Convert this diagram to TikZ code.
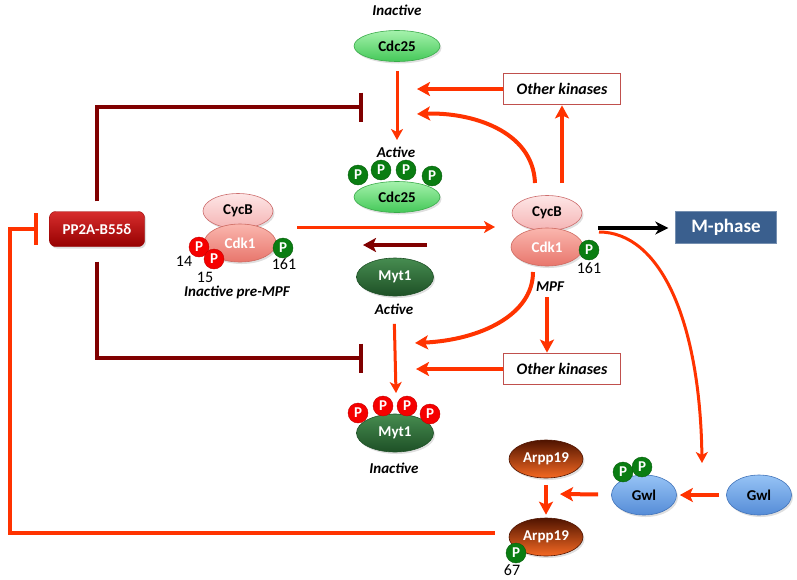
\documentclass[tikz,border=0pt]{standalone}
\usepackage{fontspec}
\setmainfont{Carlito}
\usetikzlibrary{arrows.meta,shapes.geometric,shadows}

\definecolor{actRed}{RGB}{255,51,0}
\definecolor{inhRed}{RGB}{128,0,0}
\definecolor{cdcTop}{RGB}{165,242,172}
\definecolor{cdcBot}{RGB}{68,200,88}
\definecolor{cdcEdge}{RGB}{58,170,74}
\definecolor{mytTop}{RGB}{70,140,80}
\definecolor{mytBot}{RGB}{30,80,38}
\definecolor{cdkTop}{RGB}{250,182,174}
\definecolor{cdkBot}{RGB}{232,118,108}
\definecolor{cdkEdge}{RGB}{205,105,96}
\definecolor{cycTop}{RGB}{253,230,230}
\definecolor{cycBot}{RGB}{245,180,180}
\definecolor{cycEdge}{RGB}{205,110,110}
\definecolor{ppTop}{RGB}{215,45,45}
\definecolor{ppBot}{RGB}{150,0,0}
\definecolor{arpTop}{RGB}{80,20,0}
\definecolor{arpBot}{RGB}{245,105,35}
\definecolor{gwlTop}{RGB}{150,195,245}
\definecolor{gwlBot}{RGB}{85,140,215}
\definecolor{gwlEdge}{RGB}{65,115,185}
\definecolor{phosG}{RGB}{10,125,18}
\definecolor{phosR}{RGB}{245,0,0}
\definecolor{okEdge}{RGB}{192,80,77}
\definecolor{mBlue}{RGB}{58,95,142}

\begin{document}
\begin{tikzpicture}[x=1pt,y=-1pt,
                every node/.style={font=\fontsize{15}{17}\selectfont\bfseries},
                lbl/.style={font=\fontsize{15}{17}\selectfont\bfseries\itshape},
                num/.style={font=\fontsize{16}{18}\selectfont\mdseries,inner sep=0pt},
                protein/.style={shape=ellipse,inner sep=0pt,line width=0.6pt,drop shadow={opacity=0.25,shadow xshift=1.5pt,shadow yshift=-2pt}},
                cdc/.style={protein,minimum width=86pt,minimum height=31pt,top color=cdcTop,bottom color=cdcBot,draw=cdcEdge},
                myt/.style={protein,minimum width=77pt,minimum height=38pt,top color=mytTop,bottom color=mytBot,draw=mytBot,text=white},
                cdk/.style={protein,minimum width=72pt,minimum height=38pt,top color=cdkTop,bottom color=cdkBot,draw=cdkEdge,text=white},
                cyc/.style={protein,minimum width=70pt,minimum height=35pt,top color=cycTop,bottom color=cycBot,draw=cycEdge},
                arp/.style={protein,minimum width=74pt,minimum height=38pt,top color=arpTop,bottom color=arpBot,draw=arpTop,text=white},
                gw/.style={protein,minimum width=65pt,minimum height=40pt,top color=gwlTop,bottom color=gwlBot,draw=gwlEdge},
                pG/.style={circle,minimum size=20pt,inner sep=0pt,fill=phosG,draw=phosG!75!black,text=white,font=\fontsize{15}{15}\selectfont\bfseries},
                pR/.style={pG,fill=phosR,draw=phosR!80!black},
                okbox/.style={draw=okEdge,line width=1.8pt,fill=white,minimum width=117pt,minimum height=31pt,inner sep=0pt,font=\fontsize{16}{18}\selectfont\bfseries\itshape},
                act/.style={draw=actRed,line width=4pt,-{Stealth[length=13pt,width=14pt,inset=3pt]}},
                actThin/.style={draw=actRed,line width=3pt,-{Stealth[length=11pt,width=12pt,inset=3pt]}},
                inh/.style={draw=inhRed,line width=4.5pt,-{Bar[width=29pt]}}]
                \useasboundingbox (0,0) rectangle (797,579);

                % Cdc25
                \node[lbl](cdcInLbl)at(397, 10){Inactive};
                \node[cdc](cdcIn)at(397, 46){Cdc25};
                \node[lbl](cdcActLbl)at(396, 152){Active};
                \node[cdc](cdcAct)at(397, 197){Cdc25};
                \node[pG](cdcP1)at(358, 175){P};
                \node[pG](cdcP2)at(381, 170){P};
                \node[pG](cdcP3)at(406, 170){P};
                \node[pG](cdcP4)at(432, 176){P};
                \node[okbox](okTop)at(562, 89){Other kinases};

                % pre-MPF
                \node[cyc](cycL)at(238, 211){CycB};
                \node[cdk](cdkL)at(240, 243){Cdk1};
                \node[pR](preP14)at(199, 247){P};
                \node[pR](preP15)at(214, 259){P};
                \node[pG](preP161)at(283, 248){P};
                \node[num](n14)at(184, 261){14};
                \node[num](n15)at(205, 277){15};
                \node[num](n161a)at(284, 264){161};
                \node[lbl](preLbl)at(237, 292){Inactive pre-MPF};

                % MPF
                \node[cyc](cycR)at(547, 213){CycB};
                \node[cdk](cdkR)at(547, 247){Cdk1};
                \node[pG](mpfP161)at(589, 250){P};
                \node[num](n161b)at(589, 268){161};
                \node[lbl](mpfLbl)at(550, 287){MPF};
                \node[draw=mBlue!70!white,fill=mBlue,text=white,minimum width=101pt,minimum height=32pt,inner sep=0pt,font=\fontsize{19}{21}\selectfont\bfseries](mph)at(726, 227){M-phase};

                % PP2A
                \node[rounded corners=6pt,top color=ppTop,bottom color=ppBot,draw=ppBot,text=white,minimum width=95pt,minimum height=35pt,inner sep=0pt,drop shadow={opacity=0.25,shadow xshift=1.5pt,shadow yshift=-2pt}](pp2a)at(97, 229){PP2A-B55δ};

                % Myt1
                \node[myt](mytAct)at(395, 277){Myt1};
                \node[lbl](mytActLbl)at(394, 309){Active};
                \node[okbox](okBot)at(562, 369){Other kinases};
                \node[myt](mytIn)at(395, 433){Myt1};
                \node[pR](mytP1)at(358, 413){P};
                \node[pR](mytP2)at(383, 406){P};
                \node[pR](mytP3)at(407, 406){P};
                \node[pR](mytP4)at(430, 414){P};
                \node[lbl](mytInLbl)at(394, 468){Inactive};

                % Gwl and Arpp19
                \node[arp](arpU)at(546, 459){Arpp19};
                \node[arp](arpP)at(546, 537){Arpp19};
                \node[pG](arpP67)at(516, 553){P};
                \node[num](n67)at(512, 570){67};
                \node[gw](gwlP)at(644, 495){Gwl};
                \node[pG](gwlP1)at(623, 472){P};
                \node[pG](gwlP2)at(642, 467){P};
                \node[gw](gwl)at(759, 495){Gwl};

                % free ends
                \coordinate(cdcActTop)at(397, 140);
                \coordinate(cdcT1)at(417, 89);
                \coordinate(cdcT2)at(417, 114);
                \coordinate(cdcBar)at(363, 107);
                \coordinate(mytInTop)at(396, 393);
                \coordinate(mytT1)at(415, 343);
                \coordinate(mytT2)at(416, 369);
                \coordinate(mytBar)at(363, 358);
                \coordinate(mpfUp)at(535, 183);
                \coordinate(mpfDn)at(533, 272);
                \coordinate(preR)at(297, 227);
                \coordinate(mpfL)at(495, 227);
                \coordinate(mytArrS)at(427, 245);
                \coordinate(mytArrE)at(363, 245);
                \coordinate(mpfE1)at(598, 228);
                \coordinate(mpfE2)at(599, 232);
                \coordinate(gwlIn)at(702, 463);
                \coordinate(arpT)at(560, 494);
                \coordinate(cornerL)at(10, 533);

                % activations
                \draw[actThin,shorten <=9pt](cdcIn)--(cdcActTop);
                \draw[act](okTop)--(cdcT1);
                \draw[act,shorten <=12pt](okTop.south |- cycR.north)--(okTop.south);
                \draw[act](mpfUp) .. controls (533, 130) and (470, 112) .. (cdcT2);
                \draw[actThin](preR)--(mpfL);
                \draw[draw=inhRed,line width=4pt,-{Stealth[length=13pt,width=14pt,inset=3pt]}](mytArrS)--(mytArrE);
                \draw[line width=3.5pt,-{Stealth[length=13pt,width=13pt,inset=4pt]},shorten >=7pt](mpfE1)--(mph.west |- mpfE1);
                \draw[actThin](mpfE2) .. controls (660, 232) and (700, 320) .. (gwlIn);
                \draw[act](mpfDn) .. controls (533, 315) and (480, 340) .. (mytT1);
                \draw[act,shorten <=2pt](cdkR.south |- mpfLbl.south)--(cdkR.south |- okBot.north);
                \draw[act](okBot)--(mytT2);
                \draw[actThin,shorten <=6pt](mytActLbl)--(mytInTop);
                \draw[act,shorten <=7pt,shorten >=3pt](arpU)--(arpP);
                \draw[act,shorten <=13pt](gwlP)--(arpT);
                \draw[act,shorten <=7pt,shorten >=3pt](gwl)--(gwlP);

                % inhibitions
                \draw[inh,shorten <=10pt](pp2a.north) |- (cdcBar);
                \draw[inh,shorten <=15pt](pp2a.south) |- (mytBar);
                \draw[draw=actRed,line width=4pt,-{Bar[width=32pt]},shorten <=14pt,shorten >=11pt]([yshift=4pt]arpP.west)--(cornerL) |- (pp2a.west);
\end{tikzpicture}
\end{document}
